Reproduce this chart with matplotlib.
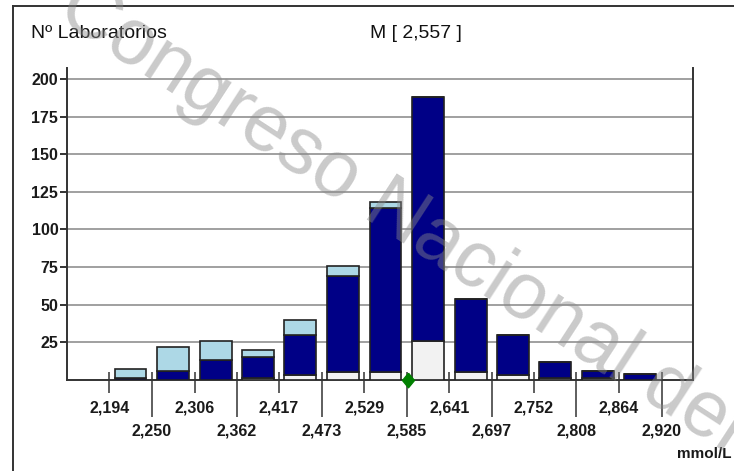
import matplotlib
matplotlib.use("Agg")
import matplotlib.pyplot as plt
import matplotlib.transforms as mtransforms
from matplotlib.lines import Line2D

# Bin edges (mmol/L) and stacked counts per bin
edges = [2.194, 2.250, 2.306, 2.362, 2.417, 2.473, 2.529, 2.585,
         2.641, 2.697, 2.752, 2.808, 2.864, 2.920]
edge_labels = ["2,194", "2,250", "2,306", "2,362", "2,417", "2,473", "2,529",
               "2,585", "2,641", "2,697", "2,752", "2,808", "2,864", "2,920"]
counts_white = [0, 0, 0, 1, 3, 5, 5, 26, 5, 3, 1, 1, 0]
counts_navy = [1, 6, 13, 14, 27, 64, 109, 162, 49, 27, 11, 5, 4]
counts_light = [6, 16, 13, 5, 10, 7, 4, 0, 0, 0, 0, 0, 0]
y_ticks = [25, 50, 75, 100, 125, 150, 175, 200]
marker_value = 2.587
mean_label = "M [ 2,557 ]"

plt.rcParams["font.family"] = ["Liberation Sans", "DejaVu Sans"]

W, H = 734, 471
fig = plt.figure(figsize=(W / 100, H / 100), dpi=100)
fig.patch.set_facecolor("white")

ax = fig.add_axes([66.7 / W, 91 / H, 626 / W, 312 / H])
step = (edges[-1] - edges[0]) / (len(edges) - 1)
ax.set_xlim(edges[0] - 1.0026 * step, edges[0] + 13.73 * step)
ax.set_ylim(0, 207.3)

centers = [(a + b) / 2 for a, b in zip(edges[:-1], edges[1:])]
widths = [0.746 * (b - a) for a, b in zip(edges[:-1], edges[1:])]
bottom2 = [w + n for w, n in zip(counts_white, counts_navy)]
bar_kw = dict(edgecolor="#222222", linewidth=1.2, zorder=3)
ax.bar(centers, counts_white, width=widths, color="#F2F2F2", **bar_kw)
ax.bar(centers, counts_navy, width=widths, bottom=counts_white, color="#000086", **bar_kw)
ax.bar(centers, counts_light, width=widths, bottom=bottom2, color="#ADD8E6", **bar_kw)

# grid and frame of the plot
ax.set_yticks(y_ticks)
ax.yaxis.grid(True, color="#A0A0A0", linewidth=1.4, zorder=0)
ax.set_axisbelow(True)
for side in ("left", "right", "bottom"):
    ax.spines[side].set_color("#333333")
    ax.spines[side].set_linewidth(1.4)
ax.spines["top"].set_visible(False)
ax.tick_params(axis="y", length=5, width=1.4, color="#333333", pad=1,
               labelsize=11.5, labelcolor="#1a1a1a")
for t in ax.get_yticklabels():
    t.set_fontweight("bold")

# two-row x tick labels
ax.set_xticks(edges[0::2])
ax.set_xticklabels(edge_labels[0::2])
ax.set_xticks(edges[1::2], minor=True)
ax.set_xticklabels(edge_labels[1::2], minor=True)
ax.tick_params(axis="x", which="major", length=9.4, width=1.1, color="#333333",
               pad=5.5, labelsize=11.5, labelcolor="#1a1a1a")
ax.tick_params(axis="x", which="minor", length=26.6, width=1.1, color="#333333",
               pad=4.6, labelsize=11.5, labelcolor="#1a1a1a")
for t in ax.get_xticklabels() + ax.get_xticklabels(minor=True):
    t.set_fontweight("bold")
# tick stubs rising above the baseline
trans = mtransforms.blended_transform_factory(ax.transData, ax.transAxes)
ax.vlines(edges, 0, 8 / 312, transform=trans, colors="#333333",
          linewidth=1.1, zorder=4)

# marker on the axis
ax.plot([marker_value], [0], linestyle="none",
        marker=[(0, 1), (0.82, 0), (0, -1), (-0.82, 0), (0, 1)],
        markersize=10.5, color="#008000", clip_on=False, zorder=6)

# titles
fig.text(31 / W, 1 - 34 / H, "Nº Laboratorios", fontsize=14,
         va="center", color="#111111")
fig.text(370 / W, 1 - 34 / H, mean_label, fontsize=14,
         va="center", color="#111111")
fig.text(676.7 / W, 1 - 454 / H, "mmol/L", fontsize=11, fontweight="bold",
         va="center", color="#1a1a1a")

# outer frame
fig.add_artist(Line2D([13 / W, 13 / W], [0, 1 - 6 / H], color="#333333",
                      linewidth=1.4, transform=fig.transFigure))
fig.add_artist(Line2D([13 / W, 1], [1 - 6 / H, 1 - 6 / H], color="#333333",
                      linewidth=1.4, transform=fig.transFigure))

# watermark
fig.text(54 / W, 1 - 17 / H, "Congreso Nacional del Laboratorio Clínico",
         fontsize=57, color="#8a8a8a", alpha=0.45,
         rotation=-33, rotation_mode="anchor", ha="left", va="baseline",
         zorder=10)

fig.savefig("out.png", dpi=100)
